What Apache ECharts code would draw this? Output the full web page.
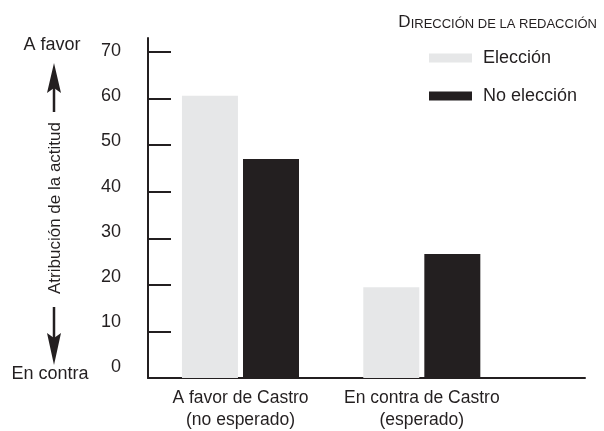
<!DOCTYPE html>
<html>
<head>
<meta charset="utf-8">
<script src="https://cdn.jsdelivr.net/npm/echarts@6/dist/echarts.min.js"></script>
<style>
html,body{margin:0;padding:0;background:#fff;}
#chart{width:604px;height:431px;}
</style>
</head>
<body>
<div id="chart"></div>
<script>
// ---- data ----
const categories = ['A favor de Castro\n(no esperado)', 'En contra de Castro\n(esperado)'];
const seriesNames = ['Elección', 'No elección'];
const eleccion = [60.6, 19.5];
const noEleccion = [47.0, 26.6];
const yTicks = [0, 10, 20, 30, 40, 50, 60, 70];
const legendTitle = 'DIRECCIÓN DE LA REDACCIÓN';
const yAxisTitle = 'Atribución de la actitud';
const topNote = 'A favor';
const bottomNote = 'En contra';

const INK = '#231f20';
const GRAY = '#e6e7e8';
const FONT = "'Liberation Sans', Arial, sans-serif";

const chart = echarts.init(document.getElementById('chart'), null, {renderer: 'canvas'});

const toPairs = arr => arr.map((v, i) => [i, v]);

const option = {
  backgroundColor: '#fff',
  textStyle: {fontFamily: FONT, color: INK},
  animation: false,
  title: {
    text: '{a|' + legendTitle.charAt(0) + '}{b|' + legendTitle.slice(1) + '}',
    right: 2, top: 7,
    textStyle: {
      fontWeight: 'normal',
      rich: {
        a: {fontSize: 17, fontWeight: 'normal', fontFamily: FONT, color: INK, lineHeight: 19, verticalAlign: 'bottom'},
        b: {fontSize: 13, fontWeight: 'normal', fontFamily: FONT, color: INK, lineHeight: 19, verticalAlign: 'bottom'}
      }
    }
  },
  legend: {
    orient: 'vertical',
    left: 424, top: 44,
    itemWidth: 43, itemHeight: 9, itemGap: 20,
    icon: 'rect',
    data: seriesNames,
    textStyle: {fontSize: 18, fontFamily: FONT, color: INK, lineHeight: 18, padding: [0, 0, 0, 6]}
  },
  grid: {left: 148, right: 19, top: 38, bottom: 53, containLabel: false, outerBoundsMode: 'none'},
  xAxis: {
    type: 'value',
    min: -0.51, max: 1.9,
    axisLine: {show: true, onZero: false, lineStyle: {color: INK, width: 2}},
    axisTick: {show: false},
    splitLine: {show: false},
    axisLabel: {
      customValues: categories.map((c, i) => i),
      formatter: v => categories[Math.round(v)],
      fontSize: 17.5, lineHeight: 22, margin: 9, color: INK, fontFamily: FONT
    }
  },
  yAxis: [
    {
      type: 'value', min: 0, max: 73, position: 'left',
      axisLine: {show: true, onZero: false, lineStyle: {color: INK, width: 2}},
      axisTick: {show: true, inside: true, length: 23, lineStyle: {color: INK, width: 2}, customValues: yTicks},
      axisLabel: {show: false},
      splitLine: {show: false}
    },
    {
      type: 'value', min: -2.32, max: 72.88, position: 'left',
      axisLine: {show: false, onZero: false}, axisTick: {show: false}, splitLine: {show: false},
      axisLabel: {customValues: yTicks, fontSize: 18, margin: 27, color: INK, fontFamily: FONT}
    }
  ],
  series: [
    {
      name: seriesNames[0], type: 'bar', yAxisIndex: 0,
      data: toPairs(eleccion), barWidth: 56, barGap: '9%',
      itemStyle: {color: GRAY}
    },
    {
      name: seriesNames[1], type: 'bar', yAxisIndex: 0,
      data: toPairs(noEleccion), barWidth: 56, barGap: '9%',
      itemStyle: {color: INK}
    }
  ],
  graphic: [
    {type: 'text', x: 52, y: 45, style: {text: topNote, fontSize: 18, fontFamily: FONT, fill: INK, align: 'center', verticalAlign: 'middle'}},
    {type: 'text', x: 50, y: 374, style: {text: bottomNote, fontSize: 18, fontFamily: FONT, fill: INK, align: 'center', verticalAlign: 'middle'}},
    {type: 'text', x: 55, y: 208, rotation: Math.PI / 2, style: {text: yAxisTitle, fontSize: 17, fontFamily: FONT, fill: INK, align: 'center', verticalAlign: 'middle'}},
    {type: 'line', shape: {x1: 54, y1: 112, x2: 54, y2: 86}, style: {stroke: INK, lineWidth: 2.5}},
    {type: 'polygon', shape: {points: [[54, 63], [61, 93], [54, 88], [47, 93]]}, style: {fill: INK}},
    {type: 'line', shape: {x1: 54, y1: 307, x2: 54, y2: 338}, style: {stroke: INK, lineWidth: 2.5}},
    {type: 'polygon', shape: {points: [[54, 365], [61, 333], [54, 338], [47, 333]]}, style: {fill: INK}}
  ]
};
chart.setOption(option);
</script>
</body>
</html>
